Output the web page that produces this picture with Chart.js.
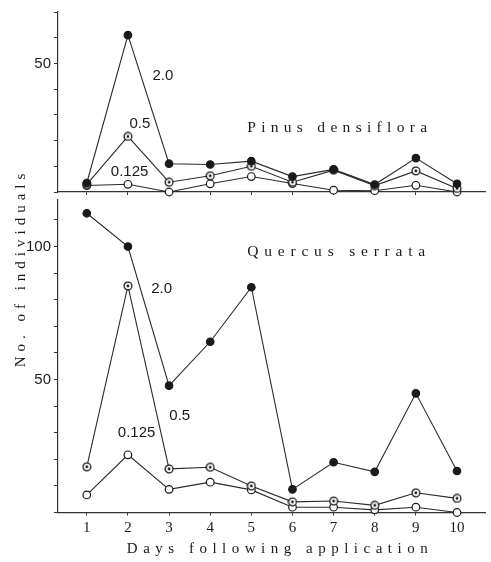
<!DOCTYPE html>
<html>
<head>
<meta charset="utf-8">
<script src="https://cdn.jsdelivr.net/npm/chart.js@4"></script>
<style>
html, body { margin: 0; padding: 0; background: #fff; }
#wrap { position: relative; width: 491px; height: 562px; }
canvas { position: absolute; left: 0; top: 0; }
</style>
</head>
<body>
<div id="wrap">
  <canvas id="topChart" width="491" height="562"></canvas>
  <canvas id="botChart" width="491" height="562"></canvas>
</div>
<script>
// days after application
const days = [1, 2, 3, 4, 5, 6, 7, 8, 9, 10];

// Pinus densiflora, by dose
const pinus20   = [3.5, 61, 11, 10.7, 12, 6, 8.8, 2.9, 13.2, 3.2];
const pinus05   = [3, 21.6, 3.8, 6.3, 10, 3.8, 8.5, 2.5, 8.2, 1.4];
const pinus0125 = [2.5, 3, 0, 3.2, 6, 3.3, 0.7, 0.5, 2.6, 0];

// Quercus serrata, by dose
const quercus20   = [112.5, 100, 47.7, 64.2, 84.7, 8.7, 18.9, 15.3, 44.8, 15.6];
const quercus05   = [17.2, 85.2, 16.4, 17, 10, 4, 4.3, 2.7, 7.4, 5.3];
const quercus0125 = [6.6, 21.7, 8.7, 11.4, 8.5, 2, 2, 1, 2, 0];

// y tick labels shown
const topYLabels = [50];
const botYLabels = [50, 100];

// text labels: [text, day, value]
const topNotes = [['2.0', 2.85, 45], ['0.5', 2.29, 26.5], ['0.125', 2.04, 7.8]];
const botNotes = [['2.0', 2.82, 84], ['0.5', 3.26, 36.3], ['0.125', 2.21, 29.9]];

const INK = '#1a1a1a';

// open circle with a dot in the middle (dose 0.5)
function ringDot() {
  const c = document.createElement('canvas');
  c.width = 10; c.height = 10;
  const g = c.getContext('2d');
  g.fillStyle = '#fff'; g.strokeStyle = INK; g.lineWidth = 1.3;
  g.beginPath(); g.arc(5, 5, 3.9, 0, Math.PI * 2); g.fill(); g.stroke();
  g.fillStyle = INK;
  g.beginPath(); g.arc(5, 5, 1.4, 0, Math.PI * 2); g.fill();
  return c;
}
const ringImg = ringDot();

function sets(d20, d05, d0125) {
  const pts = v => v.map((y, i) => ({ x: days[i], y: y }));
  const base = { borderColor: '#2a2a2a', borderWidth: 1.1, pointRadius: 3.8, clip: false };
  return [
    Object.assign({ label: '2.0', data: pts(d20), pointStyle: 'circle', pointBackgroundColor: INK, pointBorderColor: INK }, base),
    Object.assign({ label: '0.5', data: pts(d05), pointStyle: ringImg }, base),
    Object.assign({ label: '0.125', data: pts(d0125), pointStyle: 'circle', pointBackgroundColor: '#fff', pointBorderColor: INK, pointBorderWidth: 1.2 }, base)
  ];
}

function yScale(max, labels) {
  return {
    min: 0, max: max,
    afterFit: s => { s.width = 58; },
    afterBuildTicks: s => { s.ticks = []; for (let v = 0; v <= max; v += 10) s.ticks.push({ value: v }); },
    ticks: { callback: v => labels.includes(v) ? String(v) : '', color: INK, font: { family: 'Liberation Sans', size: 15 }, padding: 3 },
    grid: { drawOnChartArea: false, tickLength: 4, color: '#333' },
    border: { color: '#333', width: 1.2 }
  };
}

function xScale(showLabels, h) {
  return {
    type: 'linear', min: 0.3, max: 10.7,
    afterBuildTicks: s => { s.ticks = days.map(v => ({ value: v })); },
    afterFit: s => { s.height = h; },
    ticks: { display: showLabels, color: INK, font: { family: 'Liberation Serif', size: 15 }, padding: 4, maxRotation: 0 },
    grid: { drawOnChartArea: false, tickLength: 3, color: '#333' },
    border: { color: '#333', width: 1.2 }
  };
}

function spaced(ctx, text, x, y, size, gap, align) {
  ctx.save();
  ctx.font = size + 'px "Liberation Serif"';
  ctx.letterSpacing = gap + 'px';
  ctx.fillStyle = INK;
  ctx.textAlign = align;
  ctx.textBaseline = 'middle';
  ctx.fillText(text, x, y);
  ctx.restore();
}

function notesPlugin(notes, title) {
  return {
    id: 'notes',
    afterDatasetsDraw(chart) {
      const ctx = chart.ctx, xs = chart.scales.x, ys = chart.scales.y;
      ctx.save();
      ctx.font = '15px "Liberation Sans"';
      ctx.fillStyle = INK;
      ctx.textAlign = 'center';
      ctx.textBaseline = 'middle';
      notes.forEach(n => ctx.fillText(n[0], xs.getPixelForValue(n[1]), ys.getPixelForValue(n[2])));
      ctx.restore();
      spaced(ctx, title[0], xs.getPixelForValue(title[1]), ys.getPixelForValue(title[2]), 15.5, title[3], 'left');
    }
  };
}

const axisTitles = {
  id: 'axisTitles',
  afterDraw(chart) {
    const ctx = chart.ctx;
    spaced(ctx, 'Days following application', 280, 549, 15, 5.5, 'center');
    ctx.save();
    ctx.translate(21, 268);
    ctx.rotate(-Math.PI / 2);
    spaced(ctx, 'No. of individuals', 0, 0, 15, 5, 'center');
    ctx.restore();
  }
};

const common = {
  responsive: false, animation: false, devicePixelRatio: 1,
  plugins: { legend: { display: false }, tooltip: { enabled: false } }
};

new Chart(document.getElementById('topChart'), {
  type: 'line',
  data: { datasets: sets(pinus20, pinus05, pinus0125) },
  options: Object.assign({}, common, {
    layout: { padding: { left: 0, right: 4, top: 5, bottom: 367 } },
    scales: { x: xScale(false, 3), y: yScale(70, topYLabels) }
  }),
  plugins: [notesPlugin(topNotes, ['Pinus densiflora', 4.9, 25, 5.3])]
});

new Chart(document.getElementById('botChart'), {
  type: 'line',
  data: { datasets: sets(quercus20, quercus05, quercus0125) },
  options: Object.assign({}, common, {
    layout: { padding: { left: 0, right: 4, top: 200, bottom: 0 } },
    scales: { x: xScale(true, 49.5), y: yScale(117.5, botYLabels) }
  }),
  plugins: [notesPlugin(botNotes, ['Quercus serrata', 4.9, 98, 5.8]), axisTitles]
});
</script>
</body>
</html>
